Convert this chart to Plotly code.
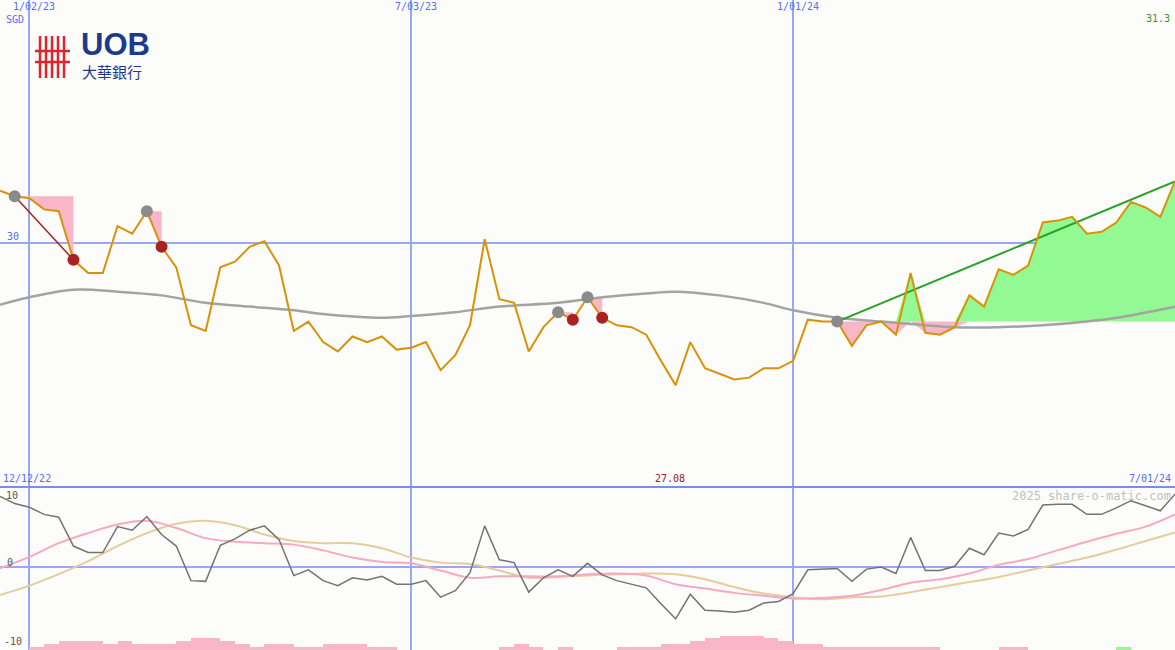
import pandas as pd
import plotly.graph_objects as go
from plotly.subplots import make_subplots

dates = pd.date_range("2022-12-19", periods=81, freq="7D")

price = [30.28,30.25,30.24,30.18,30.17,29.91,29.84,29.84,30.09,30.05,
         30.17,29.98,29.87,29.56,29.53,29.87,29.90,29.98,30.01,29.88,
         29.53,29.58,29.47,29.42,29.50,29.47,29.50,29.43,29.44,29.47,
         29.32,29.40,29.56,30.02,29.70,29.68,29.42,29.55,29.63,29.59,
         29.71,29.60,29.56,29.55,29.51,29.37,29.24,29.47,29.33,29.30,
         29.27,29.28,29.33,29.33,29.37,29.59,29.58,29.58,29.45,29.56,
         29.58,29.51,29.84,29.52,29.51,29.55,29.72,29.66,29.86,29.83,
         29.88,30.11,30.12,30.14,30.05,30.06,30.11,30.22,30.19,30.14,30.33]

ma_idx = [0,2,5,8,11,14,17,20,22,26,28,31,34,38,41,44,46,49,52,54,57,60,63,65,68,71,74,76,80]
ma_val = [29.67,29.71,29.75,29.74,29.72,29.68,29.66,29.64,29.62,29.60,29.61,29.63,29.66,29.68,
          29.71,29.73,29.74,29.72,29.68,29.64,29.60,29.58,29.56,29.55,29.55,29.56,29.58,29.60,29.66]

osc = [9.8,8.8,8.3,7.3,6.9,2.9,2.0,2.0,5.6,5.1,
       7.0,4.5,2.9,-1.9,-2.0,3.0,3.9,5.1,5.7,3.8,
       -1.2,-0.4,-1.9,-2.6,-1.5,-1.8,-1.3,-2.4,-2.4,-1.9,
       -4.2,-3.3,-0.8,5.7,1.0,0.6,-3.5,-1.5,-0.4,-1.3,
       0.5,-1.1,-1.9,-2.4,-2.9,-5.1,-7.2,-3.8,-6.0,-6.1,
       -6.3,-6.0,-5.0,-4.8,-3.7,-0.4,-0.3,-0.2,-2.0,-0.3,
       0.0,-0.9,4.1,-0.5,-0.5,0.1,2.6,1.7,4.7,4.3,
       5.2,8.6,8.7,8.7,7.3,7.3,8.2,9.2,8.5,7.8,10.1]

even_idx = list(range(0, 81, 2))
osc_pink = [-0.2,1.4,3.3,4.7,5.9,6.4,5.4,4.0,3.5,3.3,3.1,2.3,1.3,0.7,0.5,-0.5,-1.5,-1.3,-1.3,-1.3,
            -1.0,-0.9,-1.2,-2.4,-3.0,-3.6,-4.0,-4.4,-4.3,-4.0,-3.2,-2.2,-1.7,-0.9,0.3,1.1,2.3,3.5,4.6,5.6,7.3]
osc_tan = [-3.9,-2.6,-1.0,0.8,2.9,4.7,6.0,6.4,5.8,4.5,3.6,3.3,3.3,2.6,1.3,0.6,0.4,-0.5,-1.5,-1.4,
           -1.2,-1.0,-0.9,-1.0,-1.7,-2.8,-3.7,-4.2,-4.5,-4.2,-4.1,-3.5,-2.8,-2.1,-1.4,-0.5,0.4,1.3,2.4,3.6,4.8]

hist_neg = [0,0,1,2,3,3,3,2,3,2,2,2,3,4,4,3,2,1,2,2,1,1,2,2,2,1,1,0,0,0,
            0,0,0,0,1,2,1,0,1,0,0,0,1,1,1,2,2,3,4,5,5,5,4,3,2,2,1,1,1,1,
            1,1,1,1,0,0,0,0,1,1,0,0,0,0,0,0,0,0,0,0,0]
hist_pos = [0]*76 + [1] + [0]*4

up_marks = [1,10,38,40,57]
down_marks = [5,11,39,41]
signal_pairs = [(1,5),(10,11),(38,39),(40,41)]
trend_start, trend_end = 57, 80

x_ticks = ["2023-01-02","2023-07-03","2024-01-01"]
x_tick_text = ["1/02/23","7/03/23","1/01/24"]

BLUE = "#9aa8f4"
WEEK = 7*86400000
fig = make_subplots(rows=2, cols=1, shared_xaxes=True, vertical_spacing=0,
                    row_heights=[487/650, 163/650])

for a, b in signal_pairs:
    xs = list(dates[a:b+1])
    lvl = [price[a]]*len(xs)
    fig.add_trace(go.Scatter(x=xs, y=lvl, mode="lines", line=dict(width=0), hoverinfo="skip"), 1, 1)
    fig.add_trace(go.Scatter(x=xs, y=price[a:b+1], mode="lines", line=dict(width=0),
                             fill="tonexty", fillcolor="#f9b6c8", hoverinfo="skip"), 1, 1)

base = price[trend_start]
xs = list(dates[trend_start:trend_end+1])
seg = price[trend_start:trend_end+1]
fig.add_trace(go.Scatter(x=xs, y=[base]*len(xs), mode="lines", line=dict(width=0)), 1, 1)
fig.add_trace(go.Scatter(x=xs, y=[max(v, base) for v in seg], mode="lines", line=dict(width=0),
                         fill="tonexty", fillcolor="#93f993"), 1, 1)
fig.add_trace(go.Scatter(x=xs, y=[base]*len(xs), mode="lines", line=dict(width=0)), 1, 1)
fig.add_trace(go.Scatter(x=xs, y=[min(v, base) for v in seg], mode="lines", line=dict(width=0),
                         fill="tonexty", fillcolor="#f9b6c8"), 1, 1)

fig.add_trace(go.Scatter(x=[dates[i] for i in ma_idx], y=ma_val, mode="lines",
                         line=dict(color="#a3a3a3", width=2.5, shape="spline")), 1, 1)
fig.add_trace(go.Scatter(x=[dates[1], dates[5]], y=[price[1], price[5]], mode="lines",
                         line=dict(color="#a52222", width=1.5)), 1, 1)
fig.add_trace(go.Scatter(x=[dates[trend_start], dates[trend_end]], y=[price[trend_start], price[trend_end]],
                         mode="lines", line=dict(color="#26a326", width=2)), 1, 1)
fig.add_trace(go.Scatter(x=dates, y=price, mode="lines", line=dict(color="#d99208", width=2)), 1, 1)
fig.add_trace(go.Scatter(x=[dates[i] for i in up_marks], y=[price[i] for i in up_marks], mode="markers",
                         marker=dict(color="#8a8a8a", size=12)), 1, 1)
fig.add_trace(go.Scatter(x=[dates[i] for i in down_marks], y=[price[i] for i in down_marks], mode="markers",
                         marker=dict(color="#a82222", size=12)), 1, 1)

lvl_unit = 0.4
fig.add_trace(go.Bar(x=dates, y=[h*lvl_unit for h in hist_neg], base=-11.53, marker_color="#f9b6c8",
                     marker_line_width=0, width=WEEK, offset=0), 2, 1)
fig.add_trace(go.Bar(x=dates, y=[h*lvl_unit for h in hist_pos], base=-11.53, marker_color="#93f993",
                     marker_line_width=0, width=WEEK, offset=0), 2, 1)
fig.add_trace(go.Scatter(x=[dates[i] for i in even_idx], y=osc_tan, mode="lines",
                         line=dict(color="#e6cc9c", width=2, shape="spline")), 2, 1)
fig.add_trace(go.Scatter(x=[dates[i] for i in even_idx], y=osc_pink, mode="lines",
                         line=dict(color="#f7a8c4", width=2, shape="spline")), 2, 1)
fig.add_trace(go.Scatter(x=dates, y=osc, mode="lines", line=dict(color="#737373", width=1.5)), 2, 1)

xr = [dates[0], dates[-1]]
fig.update_xaxes(range=xr, tickvals=x_ticks, showticklabels=False, showgrid=True,
                 gridcolor=BLUE, gridwidth=1.5, zeroline=False, showline=False)
fig.update_yaxes(row=1, col=1, range=[28.695, 31.30], tickvals=[30], showticklabels=False,
                 showgrid=True, gridcolor=BLUE, gridwidth=2, zeroline=False)
fig.update_yaxes(row=2, col=1, range=[-11.53, 11.1], tickvals=[0], showticklabels=False,
                 showgrid=True, gridcolor=BLUE, gridwidth=2, zeroline=False)

fig.add_shape(type="line", xref="paper", yref="paper", x0=0, x1=1, y0=163/650, y1=163/650,
              line=dict(color="#7b8cf0", width=2))

F = "DejaVu Sans Mono"
ann = []
def txt(x, y, t, color, size=10, xa="left", ya="top"):
    ann.append(dict(x=x/1175, y=1-y/650, xref="paper", yref="paper", text=t, showarrow=False,
                    xanchor=xa, yanchor=ya, font=dict(family=F, size=size, color=color)))
for tv, tt in zip([29.4, 411, 793], x_tick_text):
    txt(tv - 18, -1, tt, "#5a6cf0")
txt(4, 12, "SGD", "#5a6cf0")
txt(5, 229, "30", "#5a6cf0")
txt(1172, 11, "31.3", "#2a9a2a", xa="right")
txt(1, 471, "12/12/22", "#5a6cf0")
txt(670, 471, "27.08", "#a02020", xa="center")
txt(1173, 471, "7/01/24", "#5a6cf0", xa="right")
txt(4, 488, "10", "#555555")
txt(5, 555, "0", "#555555")
txt(2, 634, "-10", "#555555")
txt(1173, 487, "2025 share-o-matic.com", "#c0c0c0", size=12, xa="right")
ann.append(dict(x=79/1175, y=1-44/650, xref="paper", yref="paper", text="<b>UOB</b>", showarrow=False,
                xanchor="left", yanchor="middle", font=dict(family="Liberation Sans", size=31, color="#1c3a8c")))
ann.append(dict(x=80/1175, y=1-72/650, xref="paper", yref="paper", text="大華銀行", showarrow=False,
                xanchor="left", yanchor="middle", font=dict(family="Noto Sans CJK TC", size=15, color="#1c3a8c")))
fig.update_layout(annotations=ann)

for k in range(5):
    xp = (40 + k*6)/1175
    fig.add_shape(type="line", xref="paper", yref="paper", x0=xp, x1=xp, y0=1-36/650, y1=1-78/650,
                  line=dict(color="#e0242c", width=2.5))
for yp in (51, 62):
    fig.add_shape(type="line", xref="paper", yref="paper", x0=35/1175, x1=70/1175, y0=1-yp/650, y1=1-yp/650,
                  line=dict(color="#e0242c", width=2.5))

fig.update_layout(width=1175, height=650, margin=dict(l=0, r=0, t=0, b=0), showlegend=False,
                  paper_bgcolor="#fcfdfa", plot_bgcolor="#fcfdfa", barmode="overlay", bargap=0)
fig.write_html("out.html", config={"displayModeBar": False},
               post_script="document.body.style.margin='0';document.body.style.overflow='hidden';")
